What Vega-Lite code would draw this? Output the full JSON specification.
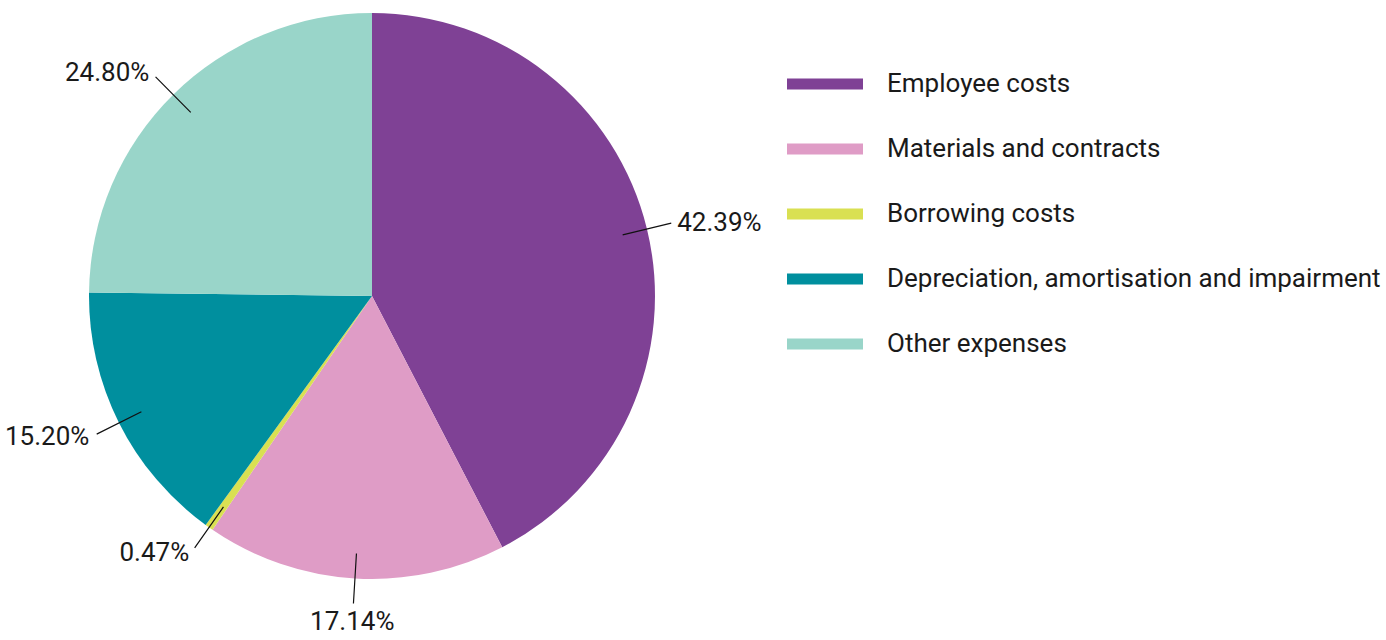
{
  "$schema": "https://vega.github.io/schema/vega-lite/v6.json",
  "width": 1386,
  "height": 640,
  "autosize": {"type": "none"},
  "padding": 0,
  "background": "white",
  "config": {"view": {"stroke": null}, "font": "Roboto"},
  "data": {
    "values": [
      {"category": "Employee costs", "value": 42.39},
      {"category": "Materials and contracts", "value": 17.14},
      {"category": "Borrowing costs", "value": 0.47},
      {"category": "Depreciation, amortisation and impairment", "value": 15.20},
      {"category": "Other expenses", "value": 24.80}
    ]
  },
  "transform": [
    {"window": [{"op": "row_number", "as": "idx"}]},
    {"stack": "value", "groupby": [], "sort": [{"field": "idx"}], "as": ["v0", "v1"]},
    {"calculate": "(datum.v0 + datum.v1) / 2", "as": "mid"},
    {"calculate": "format(datum.value, '.2f') + '%'", "as": "label"}
  ],
  "layer": [
    {
      "mark": {"type": "arc", "x": 372, "y": 296, "radius": 283, "stroke": null},
      "encoding": {
        "theta": {"field": "v0", "type": "quantitative", "stack": null, "scale": {"domain": [0, 100], "range": [0, 6.283185307179586]}},
        "theta2": {"field": "v1"},
        "color": {
          "field": "category",
          "type": "nominal",
          "scale": {
            "domain": ["Employee costs", "Materials and contracts", "Borrowing costs", "Depreciation, amortisation and impairment", "Other expenses"],
            "range": ["#7F4195", "#DF9CC6", "#D9E052", "#008F9E", "#99D5C9"]
          },
          "legend": {
            "title": null,
            "orient": "none",
            "legendX": 787,
            "legendY": 46,
            "symbolType": "M-1,-0.145L1,-0.145L1,0.145L-1,0.145Z",
            "symbolSize": 5776,
            "symbolStrokeWidth": 0,
            "labelFontSize": 26,
            "labelFont": "Roboto",
            "labelColor": "#1a1a1a",
            "labelOffset": 24,
            "labelLimit": 600,
            "rowPadding": 14
          }
        }
      }
    },
    {
      "mark": {"type": "arc", "x": 372, "y": 296, "radius": 308, "radius2": 258, "fill": null, "stroke": "#111111", "strokeWidth": 1.2},
      "encoding": {
        "theta": {"field": "mid", "type": "quantitative", "stack": null},
        "theta2": {"field": "mid"}
      }
    },
    {
      "transform": [{"filter": "datum.mid < 40"}],
      "mark": {"type": "text", "x": 372, "y": 296, "radius": 310, "align": "left", "baseline": "middle", "dx": 4, "fontSize": 26, "color": "#1a1a1a", "font": "Roboto"},
      "encoding": {
        "theta": {"field": "mid", "type": "quantitative", "stack": null},
        "text": {"field": "label"}
      }
    },
    {
      "transform": [{"filter": "datum.mid >= 40 && datum.mid < 55"}],
      "mark": {"type": "text", "x": 372, "y": 296, "radius": 327, "align": "center", "baseline": "middle", "fontSize": 26, "color": "#1a1a1a", "font": "Roboto"},
      "encoding": {
        "theta": {"field": "mid", "type": "quantitative", "stack": null},
        "text": {"field": "label"}
      }
    },
    {
      "transform": [{"filter": "datum.mid >= 55"}],
      "mark": {"type": "text", "x": 372, "y": 296, "radius": 314, "align": "right", "baseline": "middle", "dx": -2, "fontSize": 26, "color": "#1a1a1a", "font": "Roboto"},
      "encoding": {
        "theta": {"field": "mid", "type": "quantitative", "stack": null},
        "text": {"field": "label"}
      }
    }
  ]
}
